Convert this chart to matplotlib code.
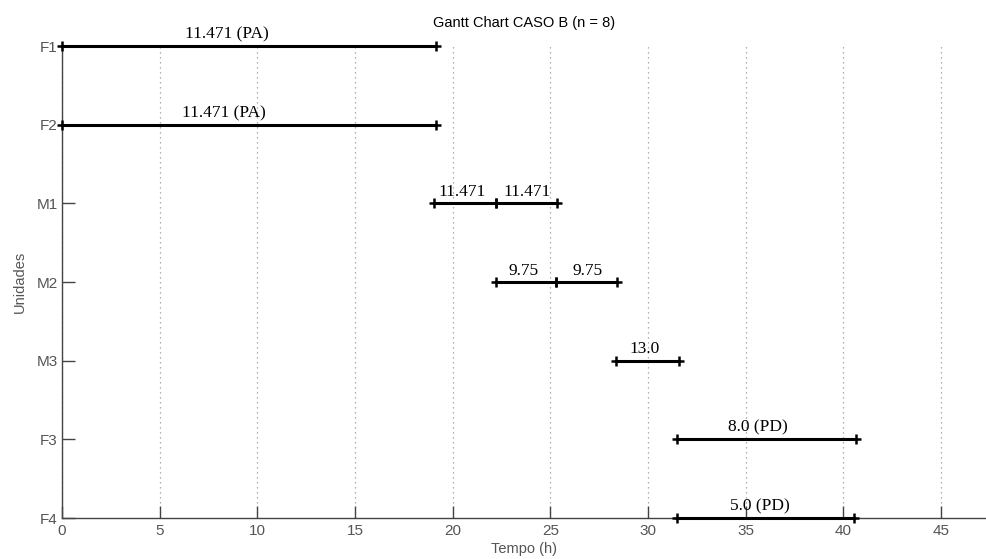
import matplotlib
matplotlib.use("Agg")
import matplotlib.pyplot as plt

# Units (top to bottom)
units = ["F1", "F2", "M1", "M2", "M3", "F3", "F4"]

# Task segments: unit, start, end, label, label x position
seg_unit = ["F1", "F2", "M1", "M1", "M2", "M2", "M3", "F3", "F4"]
seg_start = [0.0, 0.0, 19.05, 22.2, 22.2, 25.3, 28.37, 31.5, 31.5]
seg_end = [19.17, 19.17, 22.2, 25.33, 25.3, 28.4, 31.6, 40.65, 40.55]
seg_label = ["11.471 (PA)", "11.471 (PA)", "11.471", "11.471", "9.75", "9.75",
             "13.0", "8.0 (PD)", "5.0 (PD)"]
seg_label_x = [8.45, 8.3, 20.5, 23.8, 23.65, 26.9, 29.8, 35.6, 35.7]

x_ticks = [0, 5, 10, 15, 20, 25, 30, 35, 40, 45]
x_max = 47.3

title = "Gantt Chart CASO B (n = 8)"
xlabel = "Tempo (h)"
ylabel = "Unidades"

fig = plt.figure(figsize=(9.86, 5.59), dpi=100)
ax = fig.add_axes([62/986, 1-518/559, 1-62/986, (518-46)/559])

ypos = {u: len(units) - 1 - i for i, u in enumerate(units)}

for u, s, e, lab, lx in zip(seg_unit, seg_start, seg_end, seg_label, seg_label_x):
    y = ypos[u]
    ax.plot([s, e], [y, y], color="black", lw=2.2, solid_capstyle="butt",
            marker="+", markersize=7.5, markeredgewidth=1.8, clip_on=False, zorder=3)
    ax.annotate(lab, (lx, y), xytext=(0, 2.5), textcoords="offset points",
                ha="center", va="bottom", family="Liberation Serif",
                fontsize=12.5, color="black", zorder=4, annotation_clip=False)

ax.set_xlim(0, x_max)
ax.set_ylim(0, len(units) - 1)
ax.set_xticks(x_ticks)
ax.set_xticklabels([str(t) for t in x_ticks])
ax.set_yticks([ypos[u] for u in units])
ax.set_yticklabels(units)

for side in ["top", "right"]:
    ax.spines[side].set_visible(False)
for side in ["left", "bottom"]:
    ax.spines[side].set_color("#444444")
    ax.spines[side].set_linewidth(1.0)

ax.tick_params(axis="both", direction="in", length=9, width=1.0,
               color="#444444", labelcolor="#555555", labelsize=11)
ax.tick_params(axis="x", pad=4)
ax.tick_params(axis="y", pad=3)
for lbl in ax.get_xticklabels() + ax.get_yticklabels():
    lbl.set_family("Liberation Sans")

ax.xaxis.grid(True, linestyle=(0, (1, 3)), color="#999999", linewidth=0.9)
ax.set_axisbelow(True)

ax.set_title(title, family="Liberation Sans", fontsize=10.5, color="black", pad=14)
ax.set_xlabel(xlabel, family="Liberation Sans", fontsize=10.5, color="#555555",
              labelpad=3)
ax.set_ylabel(ylabel, family="Liberation Sans", fontsize=10.5, color="#555555",
              labelpad=7)

fig.savefig("out.png", dpi=100)
